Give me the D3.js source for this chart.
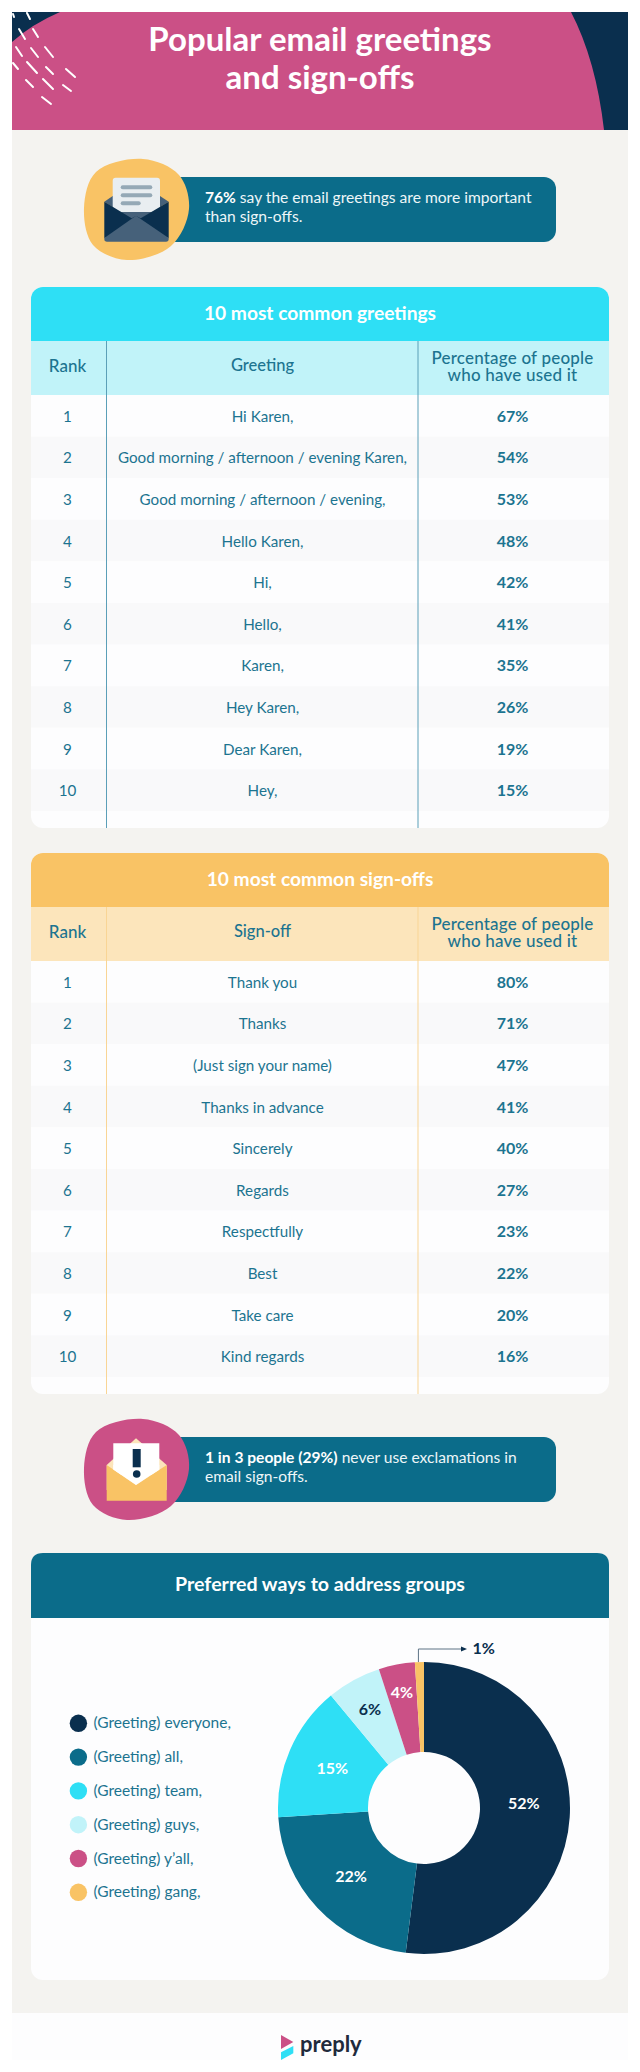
<!DOCTYPE html>
<html>
<head>
<meta charset="utf-8">
<title>Popular email greetings and sign-offs</title>
<script src="https://cdn.jsdelivr.net/npm/d3@7/dist/d3.min.js"></script>
<style>
  html, body { margin: 0; padding: 0; background: #fff; }
  svg { display: block; }
  text { font-family: Lato, "Noto Sans", sans-serif; }
</style>
</head>
<body>
<svg id="chart" width="640" height="2072"></svg>
<script>
// table data
var ranks = [1, 2, 3, 4, 5, 6, 7, 8, 9, 10];
var greetings = ['Hi Karen,', 'Good morning / afternoon / evening Karen,', 'Good morning / afternoon / evening,',
  'Hello Karen,', 'Hi,', 'Hello,', 'Karen,', 'Hey Karen,', 'Dear Karen,', 'Hey,'];
var greetingShares = [67, 54, 53, 48, 42, 41, 35, 26, 19, 15];
var signoffs = ['Thank you', 'Thanks', '(Just sign your name)', 'Thanks in advance', 'Sincerely',
  'Regards', 'Respectfully', 'Best', 'Take care', 'Kind regards'];
var signoffShares = [80, 71, 47, 41, 40, 27, 23, 22, 20, 16];

// donut data
var groupLabels = ['(Greeting) everyone,', '(Greeting) all,', '(Greeting) team,', '(Greeting) guys,', "(Greeting) y\u2019all,", '(Greeting) gang,'];
var groupShares = [52, 22, 15, 6, 4, 1];

// palette
var navy = '#0a2f4e', teal = '#0b6c8a', cyan = '#2edff5', paleCyan = '#c1f3f9',
    pink = '#cb5086', yellow = '#f9c365', paleYellow = '#fce5bb', beige = '#f4f3f0',
    white = '#fdfdfe', stripe = '#f9f9fa', ink = '#1c7490', slate = '#46617a';
var groupColors = [navy, teal, cyan, paleCyan, pink, yellow];
var groupLabelColors = ['#fff', '#fff', '#fff', navy, '#fff'];

var svg = d3.select('#chart');

// page blocks
svg.append('rect').attr('x', 12).attr('y', 130).attr('width', 616).attr('height', 1883).attr('fill', beige);
svg.append('rect').attr('x', 12).attr('y', 2013).attr('width', 616).attr('height', 47).attr('fill', white);

// header
svg.append('rect').attr('x', 12).attr('y', 12).attr('width', 616).attr('height', 118).attr('fill', pink);
svg.append('path').attr('d', 'M12,12H60Q32,24 12,42Z').attr('fill', navy);
svg.append('path').attr('d', 'M571,12H628V130H604Q596,60 571,12Z').attr('fill', navy);

var dashes = [[13, 14, 14, 17], [27, 13, 30, 19], [19, 29, 25, 39], [33, 29, 38, 37], [16, 47, 22, 56], [31, 48, 38, 57],
  [45, 47, 53, 57], [13, 63, 18, 69], [27, 62, 37, 73], [46, 67, 53, 74], [66, 69, 75, 77], [26, 80, 33, 87],
  [43, 79, 53, 89], [63, 85, 71, 91], [42, 97, 51, 104]];
svg.append('g').selectAll('line').data(dashes).join('line')
  .attr('x1', function(d){ return d[0]; })
  .attr('y1', function(d){ return d[1]; })
  .attr('x2', function(d){ return d[2]; })
  .attr('y2', function(d){ return d[3]; })
  .attr('stroke', '#fff').attr('stroke-width', 2).attr('stroke-linecap', 'round');

svg.selectAll('.title').data(['Popular email greetings', 'and sign-offs']).join('text')
  .attr('class', 'title')
  .attr('x', 320)
  .attr('y', function(d, i){ return 51 + i * 38; })
  .attr('text-anchor', 'middle')
  .attr('fill', '#fff')
  .attr('font-size', 33)
  .attr('font-weight', 700)
  .text(function(d){ return d; });

// blob behind the callout icon
var blobLine = d3.line().curve(d3.curveCatmullRomClosed.alpha(0.5));
function blob(y, color){
  var pts = [[84, 49], [96, 13], [143, 0], [179, 16], [189, 50], [171, 87], [127, 101], [93, 86]];
  svg.append('path')
    .attr('d', blobLine(pts.map(function(p){ return [p[0], p[1] + y]; })))
    .attr('fill', color);
}

function callout(barTop, lineOneBold, lineOneRest, lineTwo){
  svg.append('rect').attr('x', 160).attr('y', barTop).attr('width', 396).attr('height', 65).attr('rx', 12).attr('fill', teal);
  var first = svg.append('text').attr('x', 205).attr('y', barTop + 26).attr('fill', '#eef6f8').attr('font-size', 15.6);
  first.append('tspan').attr('font-weight', 700).attr('fill', '#fff').text(lineOneBold);
  first.append('tspan').text(lineOneRest);
  svg.append('text').attr('x', 205).attr('y', barTop + 45).attr('fill', '#eef6f8').attr('font-size', 15.6).text(lineTwo);
}

// first callout
callout(177, '76%', ' say the email greetings are more important', 'than sign-offs.');
blob(159, yellow);
svg.append('path').attr('d', 'M104.3,201.7L112.7,196H160L168.7,201.7L136,222Z').attr('fill', slate);
svg.append('path').attr('d', 'M112.7,180.7Q112.7,177.7 115.7,177.7H157Q160,177.7 160,180.7V212H112.7Z').attr('fill', '#e9eef1');
svg.append('path').attr('d', 'M104.3,201.7L131.7,218.3L136,216L140.7,218.3L168.7,201.7V238L136,230L104.3,238Z').attr('fill', navy);
svg.append('path').attr('d', 'M104.3,238L136,215.7L168.7,238V239Q168.7,241.7 166,241.7H107Q104.3,241.7 104.3,239Z').attr('fill', slate);
svg.append('g').selectAll('rect').data([31.6, 31.6, 20]).join('rect')
  .attr('x', 120.7)
  .attr('y', function(d, i){ return 185.3 + i * 8; })
  .attr('width', function(d){ return d; })
  .attr('height', 4)
  .attr('rx', 2)
  .attr('fill', '#95a9b6');

// draws one ranked table
function rankTable(top, title, itemHead, items, shares, headColor, subColor, ruleColor){
  var x0 = 31, x1 = 609, col1 = 106.5, col2 = 418, bandH = 54;
  var clipId = 'clip-' + top;
  svg.append('clipPath').attr('id', clipId).append('rect')
    .attr('x', x0).attr('y', top).attr('width', x1 - x0).attr('height', 541).attr('rx', 12);
  var g = svg.append('g').attr('clip-path', 'url(#' + clipId + ')');

  var rowY = d3.scaleBand().domain(ranks).range([top + bandH * 2, top + bandH * 2 + 416]);
  g.append('rect').attr('x', x0).attr('y', top).attr('width', x1 - x0).attr('height', 541).attr('fill', white);
  g.append('rect').attr('x', x0).attr('y', top).attr('width', x1 - x0).attr('height', bandH).attr('fill', headColor);
  g.append('rect').attr('x', x0).attr('y', top + bandH).attr('width', x1 - x0).attr('height', bandH).attr('fill', subColor);
  g.selectAll('.row').data(ranks).join('rect')
    .attr('class', 'row')
    .attr('x', x0)
    .attr('y', function(d){ return rowY(d); })
    .attr('width', x1 - x0)
    .attr('height', rowY.bandwidth())
    .attr('fill', function(d){ return d % 2 ? white : stripe; });
  g.selectAll('.rule').data([col1, col2]).join('line')
    .attr('class', 'rule')
    .attr('x1', function(d){ return d; })
    .attr('x2', function(d){ return d; })
    .attr('y1', top + bandH)
    .attr('y2', top + 541)
    .attr('stroke', ruleColor)
    .attr('stroke-width', 1);

  svg.append('text').attr('x', 320).attr('y', top + 33).attr('text-anchor', 'middle')
    .attr('fill', '#fff').attr('font-size', 19.2).attr('font-weight', 700).text(title);
  var head = svg.append('g').attr('fill', ink).attr('font-weight', 500).attr('text-anchor', 'middle');
  head.append('text').attr('x', 67.5).attr('y', top + 85).attr('font-size', 17).text('Rank');
  head.append('text').attr('x', 262.5).attr('y', top + 84).attr('font-size', 16.5).text(itemHead);
  head.append('text').attr('x', 512.5).attr('y', top + 77).attr('font-size', 17).attr('letter-spacing', 0.2).text('Percentage of people');
  head.append('text').attr('x', 512.5).attr('y', top + 94).attr('font-size', 17).attr('letter-spacing', 0.2).text('who have used it');

  var rows = svg.append('g').attr('font-size', 15.2).attr('text-anchor', 'middle').attr('fill', ink);
  var base = function(d){ return rowY(d) + rowY.bandwidth() / 2 + 6; };
  rows.selectAll('.rank').data(ranks).join('text').attr('class', 'rank')
    .attr('x', 67.5).attr('y', base).text(function(d){ return d; });
  rows.selectAll('.item').data(ranks).join('text').attr('class', 'item')
    .attr('x', 262.5).attr('y', base).text(function(d, i){ return items[i]; });
  rows.selectAll('.share').data(ranks).join('text').attr('class', 'share')
    .attr('x', 512.5).attr('y', base).attr('font-size', 16).attr('font-weight', 700)
    .text(function(d, i){ return shares[i] + '%'; });
}

rankTable(287, '10 most common greetings', 'Greeting', greetings, greetingShares, cyan, paleCyan, '#5b9fb8');
rankTable(853, '10 most common sign-offs', 'Sign-off', signoffs, signoffShares, yellow, paleYellow, '#f9d595');

// second callout
callout(1437, '1 in 3 people (29%)', ' never use exclamations in', 'email sign-offs.');
blob(1419, pink);
svg.append('path').attr('d', 'M106.7,1465L136,1438.3L166.7,1465V1490H106.7Z').attr('fill', paleYellow);
svg.append('path').attr('d', 'M113.3,1443.3H159.3V1475H113.3Z').attr('fill', '#fff');
svg.append('path').attr('d', 'M106.7,1465L136,1485L166.7,1465V1500.7H106.7Z').attr('fill', yellow);
svg.append('path').attr('d', 'M113.3,1469.5L136,1485L159.3,1469.5V1465H113.3Z').attr('fill', '#fff');
svg.append('rect').attr('x', 132.7).attr('y', 1449).attr('width', 8).attr('height', 18.3).attr('fill', navy);
svg.append('circle').attr('cx', 136.7).attr('cy', 1474).attr('r', 3.8).attr('fill', navy);

// groups panel
svg.append('rect').attr('x', 31).attr('y', 1553).attr('width', 578).attr('height', 427).attr('rx', 12).attr('fill', white);
svg.append('path').attr('d', 'M31,1618V1565Q31,1553 43,1553H597Q609,1553 609,1565V1618Z').attr('fill', teal);
svg.append('text').attr('x', 320).attr('y', 1591).attr('text-anchor', 'middle')
  .attr('fill', '#fff').attr('font-size', 19.6).attr('font-weight', 700).text('Preferred ways to address groups');

// legend
var legendY = d3.scalePoint().domain(groupLabels).range([1723.3, 1892.3]);
var legend = svg.append('g').selectAll('g').data(groupLabels).join('g')
  .attr('transform', function(d){ return 'translate(78.4,' + legendY(d) + ')'; });
legend.append('ellipse').attr('rx', 8.7).attr('ry', 8.7).attr('fill', function(d, i){ return groupColors[i]; });
legend.append('text').attr('x', 15).attr('y', 5).attr('fill', ink).attr('font-size', 15.5).text(function(d){ return d; });

// donut
var cx = 424, cy = 1808, outerR = 146, innerR = 56;
var pie = d3.pie().sort(null)(groupShares);
var arc = d3.arc().innerRadius(innerR).outerRadius(outerR);
var donut = svg.append('g').attr('transform', 'translate(' + cx + ',' + cy + ')');
donut.selectAll('path').data(pie).join('path')
  .attr('d', arc)
  .attr('fill', function(d, i){ return groupColors[i]; });

// labels sit at a hand-picked radius for each slice
var labelRadius = [100, 100, 100, 112, 118];
var labelNudge = [-11, 0, 0, 0, 0];
donut.selectAll('text').data(pie.slice(0, 5)).join('text')
  .attr('transform', function(d, i){
    var r = labelRadius[i];
    var c = d3.arc().innerRadius(r).outerRadius(r).centroid(d);
    return 'translate(' + c[0] + ',' + (c[1] + labelNudge[i]) + ')';
  })
  .attr('dy', 5.5)
  .attr('text-anchor', 'middle')
  .attr('font-size', 16)
  .attr('font-weight', 700)
  .attr('fill', function(d, i){ return groupLabelColors[i]; })
  .text(function(d){ return d.data + '%'; });

// leader for the smallest slice
var last = pie[5];
var tip = d3.arc().innerRadius(outerR).outerRadius(outerR).centroid(last);
var leaderX = cx + tip[0] - 1, leaderTop = 1649;
svg.append('path')
  .attr('d', 'M' + leaderX + ',' + (cy + tip[1]) + 'V' + leaderTop + 'H462')
  .attr('fill', 'none').attr('stroke', '#5d7385').attr('stroke-width', 1);
svg.append('path').attr('d', 'M461,' + (leaderTop - 2.5) + 'L467,' + leaderTop + 'L461,' + (leaderTop + 2.5) + 'Z').attr('fill', navy);
svg.append('text').attr('x', 472.5).attr('y', 1654).attr('fill', navy)
  .attr('font-size', 16).attr('font-weight', 700).text(last.data + '%');

// logo
svg.append('path').attr('d', 'M281,2035L293.3,2042L281,2049Z').attr('fill', pink);
svg.append('path').attr('d', 'M281,2052.3L293.3,2046V2053.3L281,2060Z').attr('fill', cyan);
svg.append('text').attr('x', 300).attr('y', 2052).attr('fill', '#1f2a3c')
  .attr('font-size', 22).attr('font-weight', 700).text('preply');
</script>
</body>
</html>
